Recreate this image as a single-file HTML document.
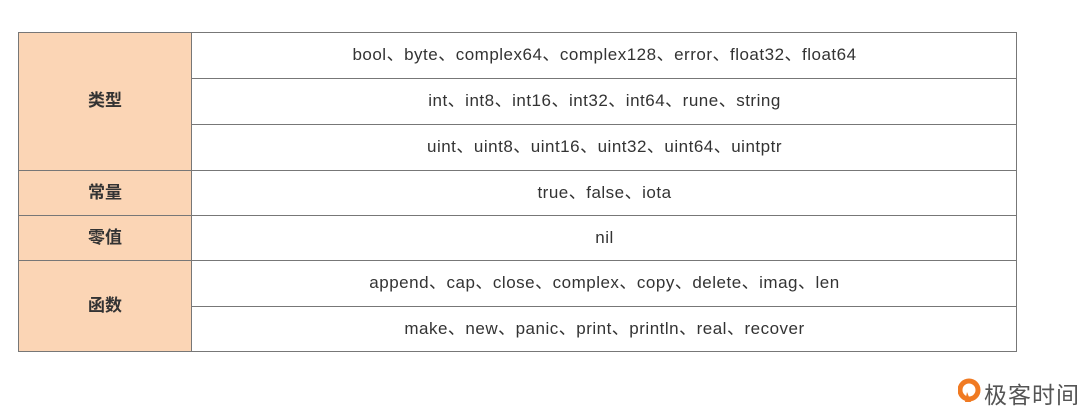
<!DOCTYPE html>
<html><head><meta charset="utf-8"><style>
body{margin:0;width:1086px;height:414px;background:#fff;position:relative;overflow:hidden;font-family:"Liberation Sans","Noto Sans CJK SC",sans-serif;}
.c{position:absolute;box-sizing:border-box;display:flex;align-items:center;justify-content:center;font-size:17px;letter-spacing:0.5px;color:#333;line-height:20px;}
.c span{display:block;line-height:20px;height:20px;margin-top:-1px;}
.l{background:#fbd5b5;font-weight:bold;font-size:17px;color:#333;letter-spacing:0;}
.h{position:absolute;left:191px;width:826px;height:1px;background:#777;}
.hl{position:absolute;left:18px;width:999px;height:1px;background:#777;}
</style></head><body>
<div style="position:absolute;left:18px;top:32px;width:999px;height:320px;box-sizing:border-box;border:1px solid #777;"></div>
<div class="c l" style="left:19px;top:33px;width:172px;height:137px;"><span>类型</span></div>
<div class="c l" style="left:19px;top:171px;width:172px;height:44px;"><span>常量</span></div>
<div class="c l" style="left:19px;top:216px;width:172px;height:44px;"><span>零值</span></div>
<div class="c l" style="left:19px;top:261px;width:172px;height:90px;"><span>函数</span></div>
<div style="position:absolute;left:191px;top:32px;width:1px;height:320px;background:#777;"></div>
<div class="h" style="top:78px"></div>
<div class="h" style="top:124px"></div>
<div class="hl" style="top:170px"></div>
<div class="hl" style="top:215px"></div>
<div class="hl" style="top:260px"></div>
<div class="h" style="top:306px"></div>
<div class="c" style="left:192px;top:33px;width:825px;height:45px;"><span>bool、byte、complex64、complex128、error、float32、float64</span></div>
<div class="c" style="left:192px;top:79px;width:825px;height:45px;"><span>int、int8、int16、int32、int64、rune、string</span></div>
<div class="c" style="left:192px;top:125px;width:825px;height:45px;"><span>uint、uint8、uint16、uint32、uint64、uintptr</span></div>
<div class="c" style="left:192px;top:171px;width:825px;height:44px;"><span>true、false、iota</span></div>
<div class="c" style="left:192px;top:216px;width:825px;height:44px;"><span>nil</span></div>
<div class="c" style="left:192px;top:261px;width:825px;height:45px;"><span>append、cap、close、complex、copy、delete、imag、len</span></div>
<div class="c" style="left:192px;top:307px;width:825px;height:44px;"><span>make、new、panic、print、println、real、recover</span></div>
<svg style="position:absolute;left:958px;top:378px" width="24" height="28" viewBox="0 0 24 28"><circle cx="11" cy="12" r="9" fill="none" stroke="#f07a22" stroke-width="5"/><path d="M9 14 L13 24 L7 24 Z" fill="#f07a22"/></svg>
<div style="position:absolute;left:984px;top:376px;font-size:23px;color:#555;letter-spacing:1px;font-family:'Noto Sans CJK SC',sans-serif;">极客时间</div>
</body></html>
